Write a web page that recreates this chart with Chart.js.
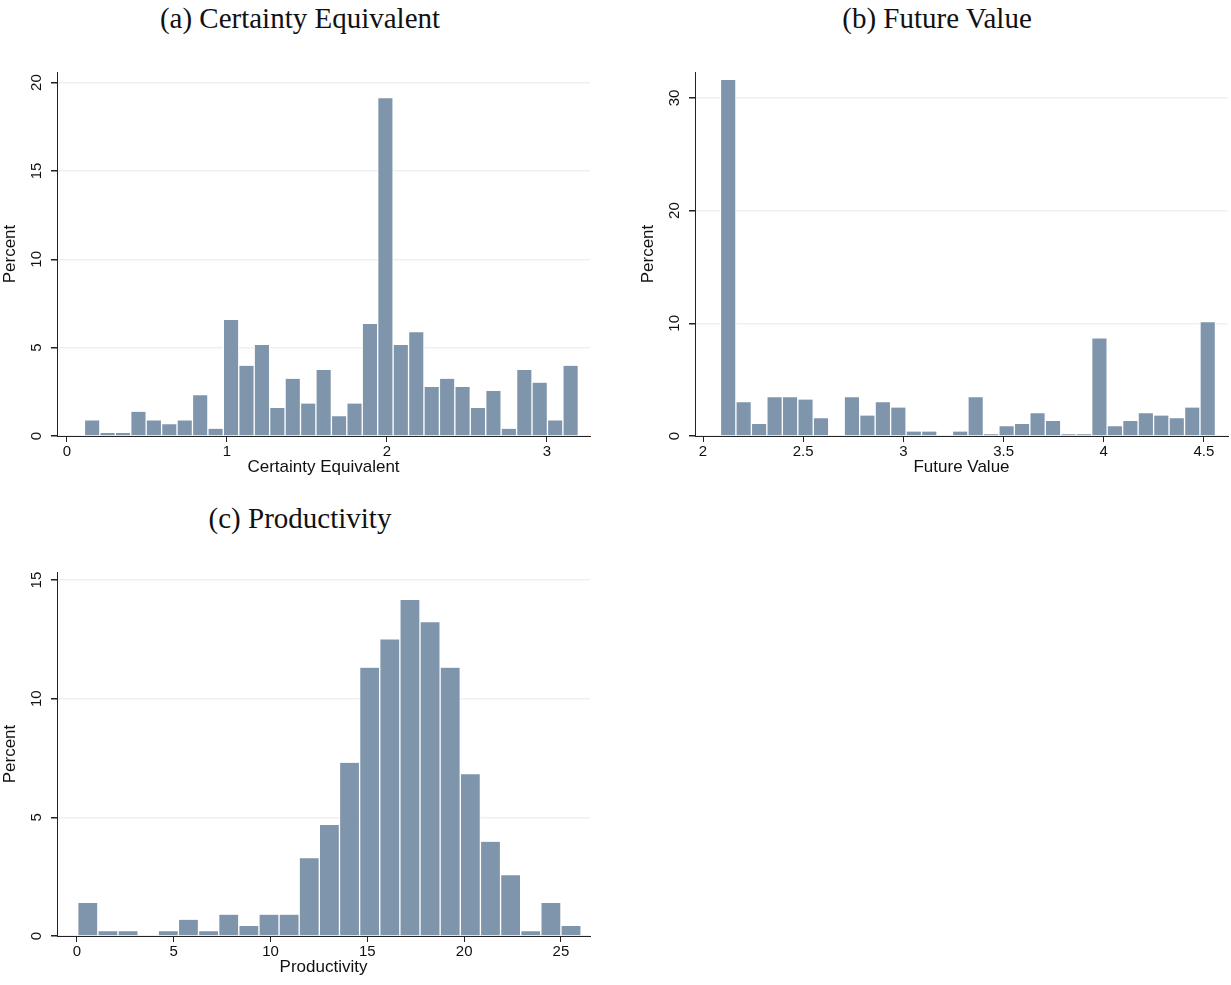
<!DOCTYPE html>
<html><head><meta charset="utf-8">
<script src="https://cdn.jsdelivr.net/npm/chart.js@4"></script>
<style>
body{margin:0;background:#fff;width:1231px;height:985px;position:relative;overflow:hidden}
.t{position:absolute;font-family:"Liberation Serif","DejaVu Serif",serif;font-size:29px;color:#111;text-align:center;width:600px}
.c{position:absolute}
</style></head><body>
<div class="t" style="left:0;top:2px">(a) Certainty Equivalent</div>
<div class="t" style="left:637px;top:2px">(b) Future Value</div>
<div class="t" style="left:0;top:502px">(c) Productivity</div>
<div class="c" style="left:0;top:60px;width:600px;height:418px"><canvas id="a"></canvas></div>
<div class="c" style="left:638px;top:60px;width:600px;height:418px"><canvas id="b"></canvas></div>
<div class="c" style="left:0;top:560px;width:600px;height:418px"><canvas id="c"></canvas></div>
<script>
// Certainty Equivalent histogram (percent per bin)
const ceStart = 0.109, ceWidth = 0.0965;
const ceValues = [0.88,0.17,0.17,1.37,0.88,0.66,0.88,2.31,0.41,6.56,3.97,5.15,1.59,3.24,1.84,3.73,1.12,1.84,6.34,19.12,5.15,5.87,2.77,3.24,2.77,1.59,2.55,0.41,3.73,3.02,0.88,3.97];
const ceXTicks = [0,1,2,3];
const ceYTicks = [0,5,10,15,20];
// Future Value histogram
const fvStart = 2.087, fvWidth = 0.0772;
const fvValues = [31.6,3.0,1.07,3.44,3.44,3.23,1.57,0,3.44,1.81,3.0,2.52,0.39,0.39,0,0.39,3.44,0.15,0.86,1.07,2.02,1.34,0.15,0.15,8.66,0.86,1.34,2.02,1.81,1.57,2.52,10.09];
const fvXTicks = [2,2.5,3,3.5,4,4.5];
const fvYTicks = [0,10,20,30];
// Productivity histogram
const prStart = 0.04, prWidth = 1.04;
const prValues = [1.39,0.2,0.2,0,0.2,0.68,0.2,0.9,0.42,0.9,0.9,3.28,4.68,7.3,11.31,12.5,14.16,13.22,11.31,6.82,3.97,2.56,0.2,1.39,0.42];
const prXTicks = [0,5,10,15,20,25];
const prYTicks = [0,5,10,15];

const barColor = '#7f95ab';
const font = {family:'"Liberation Sans", Arial, sans-serif', size:16};

const yTickPlugin = {
  id:'yrot',
  afterDraw(chart){
    const ctx = chart.ctx, s = chart.scales.y;
    ctx.save();
    ctx.fillStyle = '#111';
    ctx.font = '15px "Liberation Sans", Arial, sans-serif';
    ctx.textAlign = 'center'; ctx.textBaseline = 'middle';
    for (const t of s.ticks){
      const y = s.getPixelForValue(t.value);
      ctx.save(); ctx.translate(s.right - 20, y); ctx.rotate(-Math.PI/2);
      ctx.fillText(String(t.value), 0, 0); ctx.restore();
    }
    ctx.restore();
  }
};

function make(id, start, width, vals, xt, yt, xmin, xmax, ymax, xtitle){
  const data = vals.map((v,i)=>({x:start+(i+0.5)*width, y:v}));
  new Chart(document.getElementById(id), {
    type:'bar',
    data:{datasets:[{data, backgroundColor:barColor, borderColor:'#ffffff', borderWidth:{left:1,right:1,top:0,bottom:0}, barPercentage:1, categoryPercentage:1, borderSkipped:false}]},
    options:{
      responsive:true, maintainAspectRatio:false, animation:false,
      layout:{padding:{top:12,right:10,left:0,bottom:0}},
      plugins:{legend:{display:false}, tooltip:{enabled:false}},
      scales:{
        x:{type:'linear', min:xmin, max:xmax, offset:false,
          afterBuildTicks:s=>{s.ticks = xt.map(v=>({value:v}));},
          afterFit:s=>{s.height=42;},
          grid:{display:true, offset:false, drawOnChartArea:false, tickLength:6, color:'#222', tickColor:'#222'},
          border:{color:'#222', width:1},
          ticks:{color:'#111', font:{...font,size:15}, padding:1, maxRotation:0, autoSkip:false, callback:v=>String(v)},
          title:{display:true, text:xtitle, color:'#111', font:{...font,size:17}, padding:{top:-3,bottom:0}}
        },
        y:{min:0, max:ymax,
          afterBuildTicks:s=>{s.ticks = yt.map(v=>({value:v}));},
          afterFit:s=>{s.width=57;},
          grid:{color:'#eef1f2', lineWidth:1.5, tickColor:'#222', tickLength:6},
          border:{color:'#222', width:1},
          ticks:{display:true, color:'rgba(0,0,0,0)', font:{...font,size:15}},
          title:{display:true, text:'Percent', color:'#111', font:{...font,size:17}, padding:{top:0,bottom:2}}
        }
      }
    },
    plugins:[yTickPlugin]
  });
}
make('a', ceStart, ceWidth, ceValues, ceXTicks, ceYTicks, -0.0625, 3.27, 20.6, 'Certainty Equivalent');
make('b', fvStart, fvWidth, fvValues, fvXTicks, fvYTicks, 1.96, 4.62, 32.3, 'Future Value');
make('c', prStart, prWidth, prValues, prXTicks, prYTicks, -1.03, 26.5, 15.34, 'Productivity');
</script>
</body></html>
